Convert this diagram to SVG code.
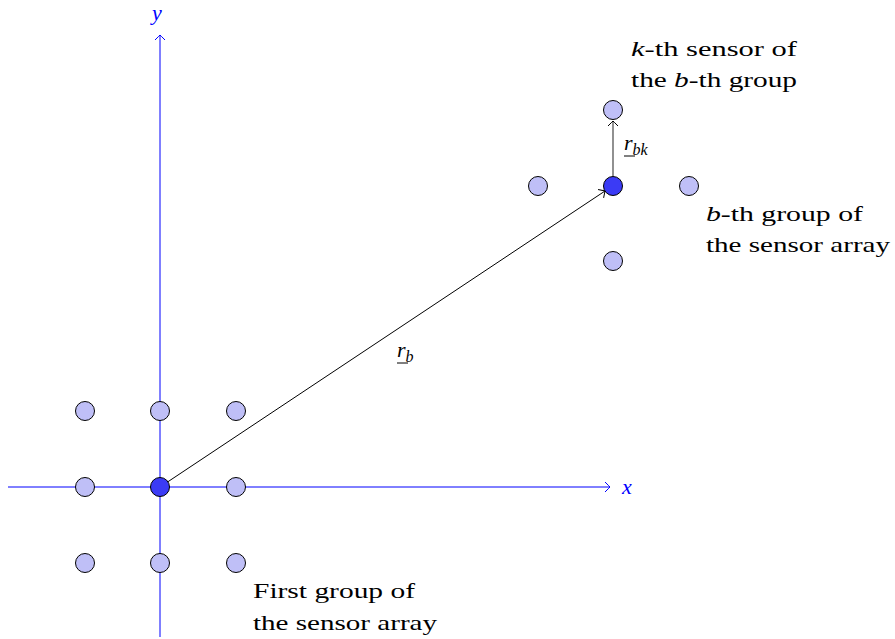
<svg xmlns="http://www.w3.org/2000/svg" width="895" height="639" viewBox="0 0 895 639">
<defs>
<style>
.sensor{fill:#bfbff7;stroke:#000;stroke-width:1}
.ref{fill:#3b3bf5;stroke:#000;stroke-width:1}
.axis{stroke:#0000ff;stroke-width:1;fill:none}
.vec{stroke:#000;stroke-width:1;fill:none}
.lbl{font-size:21px;fill:#000}
.math{font-style:italic;font-size:22px}
.blue{fill:#0000ff}
</style>
<marker id="ab" viewBox="-6 -6 8 12" markerWidth="8" markerHeight="12" refX="0" refY="0" orient="auto" markerUnits="userSpaceOnUse">
<path d="M-5,-5 Q-1,-1 0,0 Q-1,1 -5,5" fill="none" stroke="#0000ff" stroke-width="1"/>
</marker>
<marker id="ak" viewBox="-6 -6 8 12" markerWidth="8" markerHeight="12" refX="0" refY="0" orient="auto" markerUnits="userSpaceOnUse">
<path d="M-5,-5 Q-1,-1 0,0 Q-1,1 -5,5" fill="none" stroke="#000" stroke-width="1"/>
</marker>
</defs>
<rect width="895" height="639" fill="#fff"/>
<g id="axes" font-family="Liberation Serif">
<line class="axis" x1="8" y1="487" x2="610" y2="487" marker-end="url(#ab)"/>
<line class="axis" x1="160" y1="637" x2="160" y2="35" marker-end="url(#ab)"/>
<text class="math blue" x="622" y="494">x</text>
<text class="math blue" x="152" y="20">y</text>
</g>
<g id="group1">
<circle class="sensor" cx="85" cy="411" r="9.5"/>
<circle class="sensor" cx="160" cy="411" r="9.5"/>
<circle class="sensor" cx="236" cy="411" r="9.5"/>
<circle class="sensor" cx="85" cy="487" r="9.5"/>
<circle class="sensor" cx="236" cy="487" r="9.5"/>
<circle class="sensor" cx="85" cy="563" r="9.5"/>
<circle class="sensor" cx="160" cy="563" r="9.5"/>
<circle class="sensor" cx="236" cy="563" r="9.5"/>
</g>
<g id="groupb">
<circle class="sensor" cx="538" cy="186" r="9.5"/>
<circle class="sensor" cx="689" cy="186" r="9.5"/>
<circle class="sensor" cx="613" cy="110" r="9.5"/>
<circle class="sensor" cx="613" cy="261" r="9.5"/>
</g>
<g id="connectors">
<line class="vec" x1="160" y1="487" x2="605" y2="191" marker-end="url(#ak)"/>
<line x1="613" y1="176" x2="613" y2="121" stroke="#555" stroke-width="1.3" marker-end="url(#ak)"/>
</g>
<g id="refs">
<circle class="ref" cx="160" cy="487" r="9.5"/>
<circle class="ref" cx="613" cy="186" r="9.5"/>
</g>
<g id="labels" font-family="Liberation Serif">
<text class="math" x="397" y="357">r<tspan font-size="16" dy="5">b</tspan></text>
<line x1="397" y1="363" x2="408" y2="363" stroke="#000" stroke-width="1"/>
<text class="math" x="624" y="150">r<tspan font-size="16" dy="5">bk</tspan></text>
<line x1="624" y1="156" x2="635" y2="156" stroke="#000" stroke-width="1"/>
<text class="lbl" x="631" y="56" textLength="166" lengthAdjust="spacingAndGlyphs"><tspan font-style="italic">k</tspan>-th sensor of</text>
<text class="lbl" x="631" y="87" textLength="166" lengthAdjust="spacingAndGlyphs">the <tspan font-style="italic">b</tspan>-th group</text>
<text class="lbl" x="706" y="221" textLength="157" lengthAdjust="spacingAndGlyphs"><tspan font-style="italic">b</tspan>-th group of</text>
<text class="lbl" x="706" y="252" textLength="184" lengthAdjust="spacingAndGlyphs">the sensor array</text>
<text class="lbl" x="253" y="598" textLength="162" lengthAdjust="spacingAndGlyphs">First group of</text>
<text class="lbl" x="253" y="630" textLength="184" lengthAdjust="spacingAndGlyphs">the sensor array</text>
</g>
</svg>
